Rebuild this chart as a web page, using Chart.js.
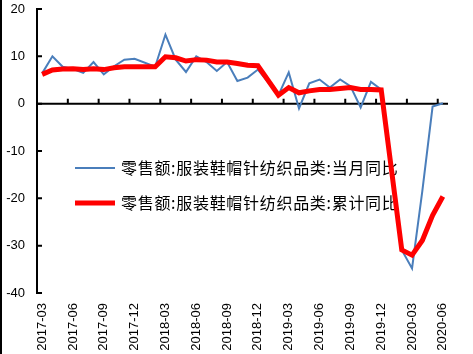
<!DOCTYPE html>
<html>
<head>
<meta charset="utf-8">
<script src="https://cdn.jsdelivr.net/npm/chart.js@4.4.1/dist/chart.umd.min.js"></script>
<style>
  body { margin: 0; background: #fff; }
  #wrap { width: 473px; height: 354px; position: relative; }
</style>
</head>
<body>
<div id="wrap"><canvas id="chart"></canvas></div>
<script>
// Months on the category axis (January has no separate figure, so it stays empty)
const months = [
  '2017-03','2017-04','2017-05','2017-06','2017-07','2017-08','2017-09','2017-10','2017-11','2017-12',
  '2018-01','2018-02','2018-03','2018-04','2018-05','2018-06','2018-07','2018-08','2018-09','2018-10',
  '2018-11','2018-12','2019-01','2019-02','2019-03','2019-04','2019-05','2019-06','2019-07','2019-08',
  '2019-09','2019-10','2019-11','2019-12','2020-01','2020-02','2020-03','2020-04','2020-05','2020-06'
];

// 当月同比 (%)
const monthlyYoY = [
  6.4, 10.0, 7.8, 7.3, 6.5, 8.8, 6.2, 7.9, 9.3, 9.5,
  null, 7.8, 14.6, 9.3, 6.7, 10.0, 8.8, 6.9, 8.8, 4.8,
  5.5, 7.2, null, 1.8, 6.6, -1.0, 4.3, 5.1, 3.4, 5.1,
  3.7, -0.8, 4.6, 3.0, null, -30.9, -34.8, -18.5, -0.6, 0.1
];

// 累计同比 (%)
const cumulativeYoY = [
  6.2, 7.1, 7.3, 7.4, 7.2, 7.4, 7.2, 7.6, 7.8, 7.8,
  null, 7.8, 9.9, 9.7, 9.0, 9.3, 9.2, 8.8, 8.8, 8.5,
  8.1, 8.0, null, 1.8, 3.4, 2.3, 2.7, 3.0, 3.0, 3.2,
  3.4, 3.0, 3.0, 2.9, null, -30.9, -32.0, -28.9, -23.6, -19.6
];

const yTicks = [-40, -30, -20, -10, 0, 10, 20];

const seriesNames = ['零售额:服装鞋帽针纺织品类:当月同比', '零售额:服装鞋帽针纺织品类:累计同比'];

// zero line with upward ticks, inward y ticks, legend in the plot
const decorations = {
  id: 'decorations',
  beforeDatasetsDraw(chart) {
    const ctx = chart.ctx;
    const area = chart.chartArea;
    const xs = chart.scales.x;
    const ys = chart.scales.y;
    ctx.save();

    // legend
    chart.data.datasets.forEach((ds, i) => {
      const y = 168 + i * 35;
      ctx.strokeStyle = ds.borderColor;
      ctx.lineWidth = ds.borderWidth;
      ctx.lineCap = 'butt';
      ctx.beginPath();
      ctx.moveTo(75, y);
      ctx.lineTo(115, y);
      ctx.stroke();
      ctx.fillStyle = '#000';
      ctx.font = '16px "Noto Sans CJK SC", sans-serif';
      ctx.letterSpacing = '0.7px';
      ctx.textBaseline = 'middle';
      ctx.fillText(ds.label, 121, y);
    });
    ctx.letterSpacing = '0px';

    // zero line and its ticks
    ctx.strokeStyle = '#000';
    ctx.lineWidth = 2;
    const y0 = ys.getPixelForValue(0);
    const step = xs.getPixelForValue(1) - xs.getPixelForValue(0);
    ctx.beginPath();
    ctx.moveTo(area.left, y0);
    ctx.lineTo(area.right, y0);
    for (let i = 0; i < months.length; i += 3) {
      const x = xs.getPixelForValue(i) - step / 2;
      ctx.moveTo(x, y0);
      ctx.lineTo(x, y0 - 5);
    }
    ctx.stroke();

    // y ticks pointing into the plot
    ctx.beginPath();
    yTicks.forEach(v => {
      const y = ys.getPixelForValue(v);
      ctx.moveTo(area.left, y);
      ctx.lineTo(area.left + 5, y);
    });
    ctx.stroke();
    ctx.restore();
  },
  afterDraw(chart) {
    // frame edge on the far left
    const ctx = chart.ctx;
    ctx.save();
    ctx.fillStyle = '#000';
    ctx.fillRect(0, 0, 2, chart.height);
    ctx.restore();
  }
};

new Chart(document.getElementById('chart').getContext('2d'), {
  type: 'line',
  data: {
    labels: months,
    datasets: [
      {
        label: seriesNames[0],
        data: monthlyYoY,
        borderColor: '#4a7ebb',
        borderWidth: 2,
        pointRadius: 0,
        tension: 0,
        spanGaps: true,
        order: 2
      },
      {
        label: seriesNames[1],
        data: cumulativeYoY,
        borderColor: '#ff0000',
        borderWidth: 5,
        pointRadius: 0,
        tension: 0,
        spanGaps: true,
        order: 1
      }
    ]
  },
  options: {
    responsive: true,
    maintainAspectRatio: false,
    animation: false,
    layout: { padding: { top: 0, right: 25, left: 0, bottom: 0 } },
    plugins: {
      legend: { display: false },
      tooltip: { enabled: false }
    },
    scales: {
      x: {
        offset: true,
        grid: { display: false, drawTicks: false },
        border: { display: false },
        ticks: {
          autoSkip: false,
          minRotation: 90,
          maxRotation: 90,
          padding: 10,
          color: '#000',
          font: { family: '"Liberation Sans", Arial, sans-serif', size: 13 },
          callback: (v, i) => (i % 3 === 0 ? months[i] : '')
        },
        afterFit: s => { s.height = 61; }
      },
      y: {
        min: -40,
        max: 20,
        grid: { display: false, drawTicks: false },
        border: { display: true, color: '#000', width: 2 },
        ticks: {
          stepSize: 10,
          padding: 12,
          color: '#000',
          font: { family: '"Liberation Sans", Arial, sans-serif', size: 13 }
        },
        afterFit: s => {
          s.width = 37;
          s.paddingTop = 9;
          s.paddingBottom = 8;
        }
      }
    }
  },
  plugins: [decorations]
});
</script>
</body>
</html>
